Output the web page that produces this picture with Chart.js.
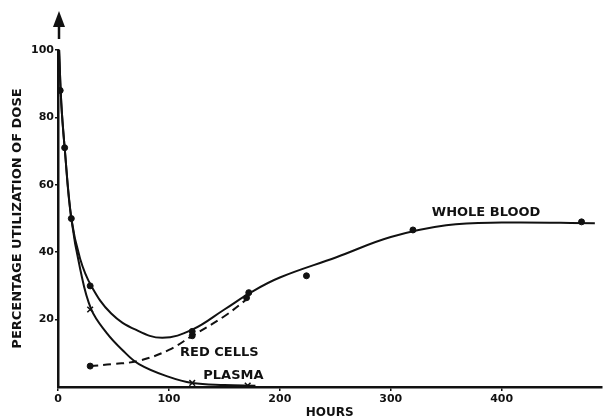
<!DOCTYPE html>
<html>
<head>
<meta charset="utf-8">
<script src="https://cdn.jsdelivr.net/npm/chart.js@4/dist/chart.umd.min.js"></script>
<style>
  html, body { margin: 0; padding: 0; background: #fff; }
  #wrap { width: 607px; height: 418px; }
</style>
</head>
<body>
<div id="wrap"><canvas id="chart" width="607" height="418"></canvas></div>
<script>
// curves as drawn (hours, % of dose)
const wholeBloodHours = [1, 3, 6, 12, 20, 30, 48, 70, 94, 121, 150, 175, 200, 251, 300, 350, 400, 484];
const wholeBloodCurve = [100, 84, 71, 50, 38, 30, 21.8, 17, 14.6, 17, 23, 28.3, 32.5, 38.5, 44.5, 48, 48.8, 48.6];

const plasmaHours = [1, 3, 6, 12, 20, 30, 44, 58, 73, 100, 121, 150, 178];
const plasmaCurve = [100, 84, 71, 50, 35, 23, 16, 11, 6.8, 3, 1.2, 0.6, 0.4];

const redCellHours = [29, 50, 73, 100, 121, 150, 172];
const redCellCurve = [6.2, 6.8, 7.8, 11, 15.2, 21, 26.5];

// measured points
const wholeBloodPtHours = [2, 6, 12, 29, 121, 172, 224, 320, 472];
const wholeBloodPtVals = [88, 71, 50, 30, 16.5, 28, 33, 46.6, 49];
const plasmaPtHours = [29, 121, 171];
const plasmaPtVals = [23, 1.2, 0.4];
const redCellPtHours = [29, 121, 170];
const redCellPtVals = [6.2, 15.2, 26.5];

const xTicks = [0, 100, 200, 300, 400];
const yTicks = [20, 40, 60, 80, 100];

// curve labels, anchored in data units (left edge, middle)
const curveLabels = ['WHOLE BLOOD', 'RED CELLS', 'PLASMA'];
const labelHours = [337, 110, 131];
const labelVals = [51.6, 10.1, 3.3];

const ink = '#111';
const font = '"DejaVu Sans", sans-serif';

function pts(xs, ys) {
  return xs.map((x, i) => ({ x: x, y: ys[i] }));
}

const extras = {
  id: 'extras',
  afterDatasetsDraw(chart) {
    const ctx = chart.ctx;
    const xs = chart.scales.x, ys = chart.scales.y;
    const ax = chart.chartArea.left;
    ctx.save();
    // arrow on top of the y axis
    ctx.strokeStyle = ink;
    ctx.fillStyle = ink;
    ctx.lineWidth = 2.5;
    ctx.beginPath();
    ctx.moveTo(ax + 1, 39);
    ctx.lineTo(ax + 1, 24);
    ctx.stroke();
    ctx.beginPath();
    ctx.moveTo(ax + 1, 11);
    ctx.lineTo(ax - 5, 27);
    ctx.lineTo(ax + 7, 27);
    ctx.closePath();
    ctx.fill();
    // curve names
    ctx.font = 'bold 13px ' + font;
    ctx.textBaseline = 'middle';
    ctx.textAlign = 'left';
    curveLabels.forEach((t, i) => {
      ctx.fillText(t, xs.getPixelForValue(labelHours[i]), ys.getPixelForValue(labelVals[i]));
    });
    ctx.restore();
  }
};

const curve = { showLine: true, borderColor: ink, borderWidth: 2, pointRadius: 0, tension: 0.4 };

new Chart(document.getElementById('chart'), {
  type: 'scatter',
  data: {
    datasets: [
      Object.assign({ label: 'Whole blood', data: pts(wholeBloodHours, wholeBloodCurve) }, curve),
      Object.assign({ label: 'Plasma', data: pts(plasmaHours, plasmaCurve) }, curve),
      Object.assign({ label: 'Red cells', data: pts(redCellHours, redCellCurve), borderDash: [8, 5] }, curve),
      {
        label: 'Whole blood (measured)',
        data: pts(wholeBloodPtHours, wholeBloodPtVals),
        pointStyle: 'circle', pointRadius: 3,
        backgroundColor: ink, borderColor: ink
      },
      {
        label: 'Plasma (measured)',
        data: pts(plasmaPtHours, plasmaPtVals),
        pointStyle: 'crossRot', pointRadius: 4, borderWidth: 1.5,
        backgroundColor: ink, borderColor: ink
      },
      {
        label: 'Red cells (measured)',
        data: pts(redCellPtHours, redCellPtVals),
        pointStyle: 'circle', pointRadius: 3,
        backgroundColor: ink, borderColor: ink
      }
    ]
  },
  options: {
    responsive: false,
    animation: false,
    layout: { padding: { left: 0, top: 50, right: 4, bottom: 0 } },
    plugins: {
      legend: { display: false },
      tooltip: { enabled: false }
    },
    scales: {
      x: {
        type: 'linear', min: 0, max: 490,
        afterFit: s => { s.height = 31; },
        afterBuildTicks: s => { s.ticks = xTicks.map(v => ({ value: v })); },
        grid: { display: true, drawOnChartArea: false, drawTicks: true, tickLength: 4, color: ink, lineWidth: 1.5 },
        border: { display: true, color: ink, width: 2.5 },
        ticks: { color: ink, padding: 2, maxRotation: 0, font: { family: font, size: 11, weight: 'bold' } },
        title: { display: true, text: 'HOURS', color: ink, padding: { top: 0, bottom: -2 }, font: { family: font, size: 12, weight: 'bold' } }
      },
      y: {
        type: 'linear', min: 0, max: 100,
        afterFit: s => { s.width = 58; },
        afterBuildTicks: s => { s.ticks = yTicks.map(v => ({ value: v })); },
        grid: { display: true, drawOnChartArea: false, drawTicks: true, tickLength: 3, color: ink, lineWidth: 1.5 },
        border: { display: true, color: ink, width: 2.5 },
        ticks: { color: ink, padding: 1, font: { family: font, size: 11, weight: 'bold' } },
        title: { display: true, text: 'PERCENTAGE UTILIZATION OF DOSE', color: ink, padding: { top: 10, bottom: 0 }, font: { family: font, size: 13, weight: 'bold' } }
      }
    }
  },
  plugins: [extras]
});
</script>
</body>
</html>
